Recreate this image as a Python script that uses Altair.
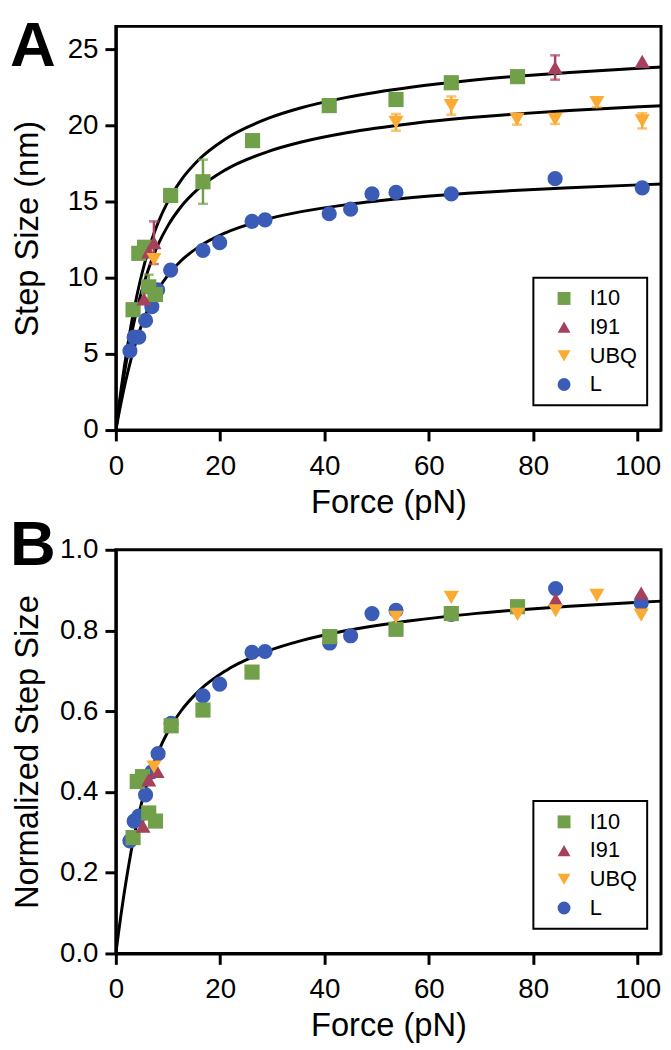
import altair as alt
import pandas as pd

SERIES = ["I10", "I91", "UBQ", "L"]
COLORS = ["#72a04a", "#a5405d", "#fbaa33", "#3b5cb6"]
SHAPES = ["square", "triangle-up", "triangle-down", "circle"]

# ---------------- Panel A: step size (nm) vs force (pN) ----------------
a_L_force = [2.7, 3.5, 4.4, 5.7, 6.9, 8.0, 10.5, 16.7, 19.9, 26.1, 28.6, 40.9, 45.0, 49.1, 53.7, 64.3, 84.2, 100.9]
a_L_step = [5.2, 6.1, 6.1, 7.2, 8.1, 9.2, 10.5, 11.8, 12.3, 13.7, 13.8, 14.2, 14.5, 15.5, 15.6, 15.5, 16.5, 15.9]

a_I10_force = [3.3, 4.4, 5.5, 6.3, 7.6, 10.5, 16.7, 26.2, 40.9, 53.7, 64.3, 77.0]
a_I10_step = [7.9, 11.6, 12.0, 9.4, 8.9, 15.4, 16.3, 19.0, 21.3, 21.7, 22.8, 23.2]
a_I10_err = [0, 0, 0, 0.8, 0, 0, 1.45, 0, 0, 0, 0, 0]

a_I91_force = [5.4, 6.3, 7.3, 84.2, 100.9]
a_I91_step = [8.6, 11.7, 12.3, 23.8, 24.2]
a_I91_err = [0, 0, 1.4, 0.8, 0]

a_UBQ_force = [7.3, 53.7, 64.3, 76.9, 84.2, 92.2, 100.9]
a_UBQ_step = [11.2, 20.2, 21.3, 20.4, 20.4, 21.5, 20.3]
a_UBQ_err = [0, 0.55, 0.6, 0.35, 0.3, 0.3, 0.5]

# ---------------- Panel B: normalized step size vs force ----------------
b_L_force = [2.7, 3.5, 4.4, 5.7, 6.9, 8.1, 10.6, 16.7, 19.9, 26.1, 28.6, 41.0, 45.0, 49.1, 53.7, 64.3, 84.3, 100.7]
b_L_norm = [0.279, 0.328, 0.34, 0.393, 0.45, 0.495, 0.57, 0.638, 0.667, 0.746, 0.748, 0.769, 0.787, 0.842, 0.850, 0.84, 0.904, 0.868]

b_I10_force = [3.3, 4.1, 5.1, 6.3, 7.6, 10.6, 16.7, 26.1, 41.0, 53.7, 64.3, 77.0]
b_I10_norm = [0.287, 0.426, 0.438, 0.348, 0.328, 0.564, 0.603, 0.697, 0.785, 0.803, 0.842, 0.859]

b_I91_force = [5.2, 6.3, 7.9, 84.3, 100.7]
b_I91_norm = [0.315, 0.430, 0.451, 0.877, 0.893]

b_UBQ_force = [7.3, 53.7, 64.3, 77.0, 84.3, 92.2, 100.7]
b_UBQ_norm = [0.462, 0.833, 0.882, 0.840, 0.849, 0.887, 0.838]

# ---------------- fitted curve (normalized) ----------------
fit_force = [0, 0.50, 1.03, 1.60, 2.22, 2.89, 3.65, 4.50, 5.50, 6.68, 8.14, 9.99, 12.45,
             15.88, 21.01, 29.29, 35.55, 44.25, 56.87, 67.4, 76.22, 86.98, 100.3, 108.2]
fit_frac = [0, 0.05, 0.10, 0.15, 0.20, 0.25, 0.30, 0.35, 0.40, 0.45, 0.50, 0.55, 0.60,
            0.65, 0.70, 0.75, 0.775, 0.80, 0.825, 0.84, 0.85, 0.86, 0.87, 0.875]
# contour lengths (nm) of the three curves drawn in panel A
contour = {"I10": 27.3, "UBQ": 24.4, "L": 18.5}

FONT = "Liberation Sans"
W, H = 551, 408
X_MAX = 104.5


def points_df(groups):
    rows = []
    for name, fs, vs in groups:
        for f, v in zip(fs, vs):
            rows.append({"series": name, "force": f, "value": v})
    return pd.DataFrame(rows)


dfA = points_df([
    ("L", a_L_force, a_L_step),
    ("I10", a_I10_force, a_I10_step),
    ("I91", a_I91_force, a_I91_step),
    ("UBQ", a_UBQ_force, a_UBQ_step),
])
dfB = points_df([
    ("L", b_L_force, b_L_norm),
    ("I10", b_I10_force, b_I10_norm),
    ("I91", b_I91_force, b_I91_norm),
    ("UBQ", b_UBQ_force, b_UBQ_norm),
])

err_sets = {}
for name, fs, vs, es in [("I10", a_I10_force, a_I10_step, a_I10_err),
                         ("I91", a_I91_force, a_I91_step, a_I91_err),
                         ("UBQ", a_UBQ_force, a_UBQ_step, a_UBQ_err)]:
    rows = [{"force": f, "lo": v - e, "hi": v + e} for f, v, e in zip(fs, vs, es) if e > 0]
    err_sets[name] = pd.DataFrame(rows)

fitA_rows = []
for name, lc in contour.items():
    for f, fr in zip(fit_force, fit_frac):
        fitA_rows.append({"curve": name, "force": f, "value": lc * fr})
dfFitA = pd.DataFrame(fitA_rows)
dfFitB = pd.DataFrame({"curve": "all", "force": fit_force, "value": fit_frac})

color_scale = alt.Scale(domain=SERIES, range=COLORS)
shape_scale = alt.Scale(domain=SERIES, range=SHAPES)
series_color = dict(zip(SERIES, COLORS))

legend = alt.Legend(
    title=None, orient="none", legendX=422, legendY=254,
    strokeColor="black", padding=10,
    labelFont=FONT, labelFontSize=22, labelColor="black", labelOffset=15,
    symbolSize=170, symbolOffset=10, symbolStrokeWidth=0, symbolOpacity=1,
    rowPadding=7,
)

x_enc = alt.X(
    "force:Q",
    scale=alt.Scale(domain=[0, X_MAX], nice=False, zero=True),
    axis=alt.Axis(values=[0, 20, 40, 60, 80, 100], title="Force (pN)", labelFlush=False,
                  tickSize=11, labelPadding=12, titleY=57),
)


def panel(df_pts, df_fit, y_domain, y_values, y_title, y_format, letter, letter_y, errs=None):
    y_axis = alt.Axis(values=y_values, title=y_title, format=y_format, labelFlush=False,
                      tickSize=11, labelPadding=7, titleX=-72, titleY=H / 2)
    y_scale = alt.Scale(domain=y_domain, nice=False, zero=True)

    lines = alt.Chart(df_fit).mark_line(color="black", strokeWidth=3, clip=True,
                                        interpolate="monotone").encode(
        x=x_enc,
        y=alt.Y("value:Q", scale=y_scale, axis=y_axis),
        detail="curve:N",
    )
    layers = [lines]
    if errs is not None:
        for name, d in errs.items():
            c = series_color[name]
            layers.append(alt.Chart(d).mark_rule(strokeWidth=2.5, color=c).encode(
                x="force:Q", y="lo:Q", y2="hi:Q"))
            layers.append(alt.Chart(d).mark_tick(orient="horizontal", size=10, thickness=2.5,
                                                 color=c).encode(x="force:Q", y="lo:Q"))
            layers.append(alt.Chart(d).mark_tick(orient="horizontal", size=10, thickness=2.5,
                                                 color=c).encode(x="force:Q", y="hi:Q"))
    pts = alt.Chart(df_pts).mark_point(filled=True, opacity=1, size=235, strokeWidth=0).encode(
        x="force:Q",
        y="value:Q",
        color=alt.Color("series:N", scale=color_scale, legend=legend),
        shape=alt.Shape("series:N", scale=shape_scale, legend=legend),
    )
    layers.append(pts)
    lab = alt.Chart(pd.DataFrame({"t": [letter]})).mark_text(
        font=FONT, fontSize=64, fontWeight="bold", color="black",
        align="left", baseline="alphabetic",
    ).encode(x=alt.value(-107), y=alt.value(letter_y), text="t:N")
    layers.append(lab)
    return alt.layer(*layers).properties(width=W, height=H)


chartA = panel(dfA, dfFitA, [0, 26.5], [0, 5, 10, 15, 20, 25], "Step Size (nm)", "d",
               "A", 40, err_sets)
chartB = panel(dfB, dfFitB, [0, 1.0], [0, 0.2, 0.4, 0.6, 0.8, 1.0], "Normalized Step Size", ".1f",
               "B", 15)

chart = alt.vconcat(chartA, chartB, spacing=121, bounds="flush").resolve_scale(
    color="independent", shape="independent"
).resolve_legend(
    color="independent", shape="independent"
).properties(
    padding=0
).configure_axis(
    labelFont=FONT, titleFont=FONT, labelFontSize=28, titleFontSize=33,
    titleFontWeight="normal", labelColor="black", titleColor="black",
    domainColor="black", domainWidth=3, tickColor="black", tickWidth=3, grid=False,
).configure_view(stroke="black", strokeWidth=3).configure_legend(strokeWidth=2)

chart.save("out.html", embed_options={"renderer": "svg", "actions": False})
